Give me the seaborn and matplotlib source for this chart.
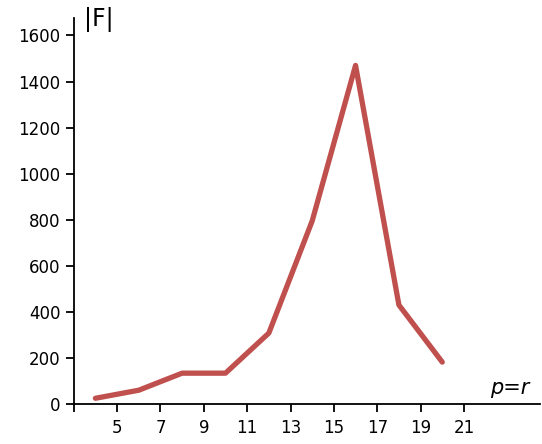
import matplotlib
matplotlib.use("Agg")
import matplotlib.pyplot as plt
import seaborn as sns
import pandas as pd

p_values = [4, 6, 8, 10, 12, 14, 16, 18, 20]
F_values = [25, 60, 134, 134, 308, 795, 1470, 430, 182]
x_ticks = [3, 5, 7, 9, 11, 13, 15, 17, 19, 21]
x_tick_labels = ["", "5", "7", "9", "11", "13", "15", "17", "19", "21"]
y_ticks = [0, 200, 400, 600, 800, 1000, 1200, 1400, 1600]

sns.set_style("ticks")
plt.rcParams['font.family'] = ['DejaVu Sans']

df = pd.DataFrame({"p": p_values, "F": F_values})

fig = plt.figure(figsize=(5.42, 4.44), dpi=100)
ax = fig.add_axes([0.136, 0.09, 0.86, 0.869])
sns.lineplot(data=df, x="p", y="F", ax=ax, color="#C0504D", linewidth=3.8)

ax.set_xlim(3, 24.5)
ax.set_ylim(0, 1675)
ax.set_xticks(x_ticks)
ax.set_xticklabels(x_tick_labels)
ax.set_yticks(y_ticks)
ax.tick_params(axis="both", labelsize=12, direction="out", length=6, width=1.3, colors="black")
ax.tick_params(axis="x", pad=5)
for s in ["top", "right"]:
    ax.spines[s].set_visible(False)
for s in ["left", "bottom"]:
    ax.spines[s].set_linewidth(1.3)
    ax.spines[s].set_color("black")
ax.set_xlabel("")
ax.set_ylabel("")

fig.text(84 / 542, 1 - 20 / 444, "|F|", fontsize=17, color="black", ha="left", va="center")
fig.text(510 / 542, 1 - 388 / 444, "p=r", fontsize=15, style="italic", color="black",
         ha="center", va="center")

fig.savefig("out.png", dpi=100)
